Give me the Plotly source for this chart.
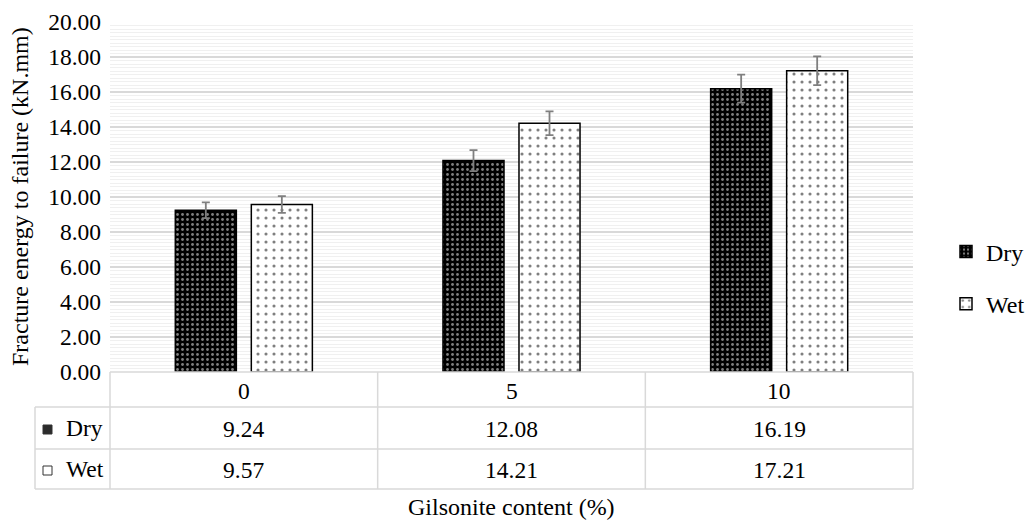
import plotly.graph_objects as go

categories = ["0", "5", "10"]
series_names = ["Dry", "Wet"]
dry_values = [9.24, 12.08, 16.19]
wet_values = [9.57, 14.21, 17.21]
dry_errors = [0.45, 0.60, 0.80]
wet_errors = [0.48, 0.68, 0.82]
y_tick_values = [0, 2, 4, 6, 8, 10, 12, 14, 16, 18, 20]
y_tick_labels = ["0.00", "2.00", "4.00", "6.00", "8.00", "10.00", "12.00", "14.00", "16.00", "18.00", "20.00"]

FONT = "'Liberation Serif', 'Times New Roman', Times, serif"
FS = 23.5
W, H = 1031, 525
ML, MR, MT, MB = 110, 118, 22, 153
PW = W - ML - MR
PH = H - MT - MB
GRID = "#d9d9d9"

def px_x(px):
    return (px - ML) / PW

def px_y(py):
    return (H - MB - py) / PH

fig = go.Figure()
fig.add_trace(go.Bar(
    x=categories, y=dry_values, name=series_names[0], legendgroup="a",
    marker=dict(color="black", line=dict(color="black", width=1.5),
                pattern=dict(shape=".", fgcolor="white", bgcolor="black", size=5, solidity=0.25)),
    error_y=dict(type="data", array=dry_errors, color="#7f7f7f", thickness=1.8, width=4),
))
fig.add_trace(go.Bar(
    x=categories, y=wet_values, name=series_names[1], legendgroup="b",
    marker=dict(color="white", line=dict(color="black", width=1.5),
                pattern=dict(shape=".", fgcolor="black", bgcolor="white", size=8, solidity=0.12)),
    error_y=dict(type="data", array=wet_errors, color="#7f7f7f", thickness=1.8, width=4),
))

shapes = []
annotations = []
n = len(categories)
top, r1, r2, bot = 372, 407, 449, 489
left = 35
line = dict(color=GRID, width=1.5)
shapes.append(dict(type="line", xref="paper", yref="paper", x0=0, x1=1, y0=px_y(top), y1=px_y(top), line=line))
for py in (r1, r2, bot):
    shapes.append(dict(type="line", xref="paper", yref="paper", x0=px_x(left), x1=1, y0=px_y(py), y1=px_y(py), line=line))
for i in range(n + 1):
    shapes.append(dict(type="line", xref="paper", yref="paper", x0=i / n, x1=i / n, y0=px_y(top), y1=px_y(bot), line=line))
shapes.append(dict(type="line", xref="paper", yref="paper", x0=px_x(left), x1=px_x(left), y0=px_y(r1), y1=px_y(bot), line=line))

tf = dict(family=FONT, size=FS, color="black")
for i, c in enumerate(categories):
    for text, (ya, yb) in ((c, (top, r1)), (f"{dry_values[i]:.2f}", (r1, r2)), (f"{wet_values[i]:.2f}", (r2, bot))):
        annotations.append(dict(x=i, y=px_y((ya + yb) / 2 + 1), xref="x", yref="paper", text=text, showarrow=False,
                                xanchor="center", yanchor="middle", font=tf))
for name, (ya, yb), fill in ((series_names[0], (r1, r2), "#2b2b2b"), (series_names[1], (r2, bot), "white")):
    yc = (ya + yb) / 2
    annotations.append(dict(x=px_x(64), y=px_y(yc), xref="paper", yref="paper", text=name, showarrow=False,
                            xanchor="left", yanchor="middle", font=tf))
    shapes.append(dict(type="rect", xref="paper", yref="paper", x0=px_x(43), x1=px_x(52),
                       y0=px_y(yc - 3), y1=px_y(yc + 6), fillcolor=fill, line=dict(color="#333", width=1)))

annotations.append(dict(x=px_x(20), y=0.5, xref="paper", yref="paper", text="Fracture energy to failure (kN.mm)",
                        textangle=-90, showarrow=False, xanchor="center", yanchor="middle",
                        font=dict(family=FONT, size=24, color="black")))
annotations.append(dict(x=0.5, y=px_y(507), xref="paper", yref="paper", text="Gilsonite content (%)",
                        showarrow=False, xanchor="center", yanchor="middle",
                        font=dict(family=FONT, size=24, color="black")))

fig.update_layout(
    width=W, height=H,
    margin=dict(l=ML, r=MR, t=MT, b=MB, autoexpand=False),
    paper_bgcolor="white", plot_bgcolor="white",
    barmode="group", bargap=0.432, bargroupgap=0.197,
    font=dict(family=FONT, size=FS, color="black"),
    legend=dict(x=px_x(946), y=px_y(278), xanchor="left", yanchor="middle",
                font=dict(family=FONT, size=24), tracegroupgap=18, traceorder="grouped"),
    shapes=shapes, annotations=annotations,
    xaxis=dict(type="category", range=[-0.5, n - 0.5], showticklabels=False, showgrid=False,
               zeroline=False, showline=False, ticks=""),
    yaxis=dict(range=[0, 20], tickvals=y_tick_values, ticktext=y_tick_labels, showgrid=True, gridcolor=GRID,
               gridwidth=1.5, zeroline=False, showline=False, ticks="", ticklabelstandoff=8,
               minor=dict(dtick=0.2, showgrid=True, gridcolor="#f0f0f0", gridwidth=1),
               tickfont=tf),
)

fig.write_html("out.html", config={"displayModeBar": False})
with open("out.html", encoding="utf-8") as f:
    html = f.read()
html = html.replace("<head>", "<head><style>html,body{margin:0;padding:0;overflow:hidden;}</style>", 1)
with open("out.html", "w", encoding="utf-8") as f:
    f.write(html)
